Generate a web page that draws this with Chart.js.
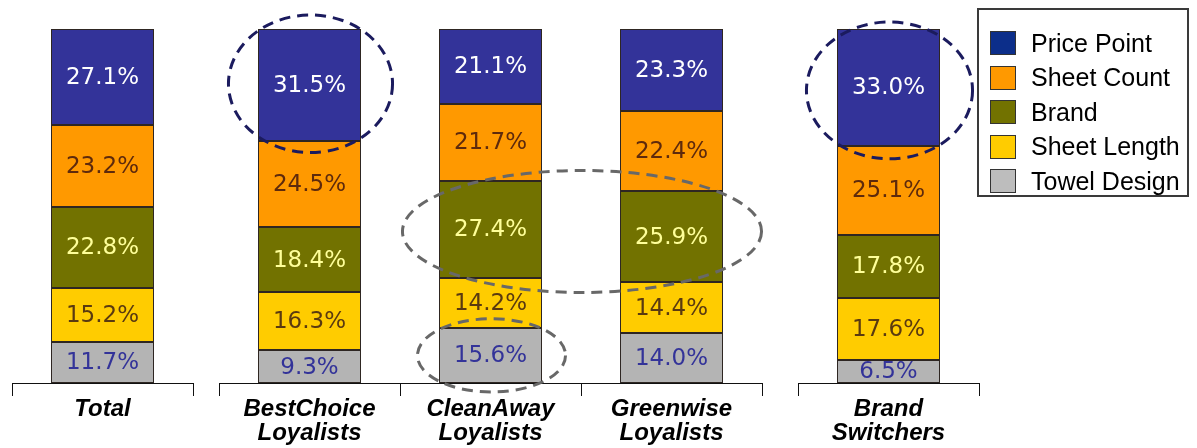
<!DOCTYPE html>
<html>
<head>
<meta charset="utf-8">
<title>Purchase drivers by shopper segment</title>
<script src="https://cdn.jsdelivr.net/npm/chart.js@4/dist/chart.umd.min.js"></script>
<style>
  html, body { margin: 0; padding: 0; background: #ffffff; }
  #stage { position: relative; width: 1197px; height: 448px; overflow: hidden; background: #ffffff; }
  .pane { position: absolute; top: 0; height: 448px; }
  .pane canvas { display: block; }
  #legend {
    position: absolute; left: 977px; top: 8px; width: 212px; height: 189px;
    border: 2px solid #3a3a3a; background: #ffffff; box-sizing: border-box;
    font-family: 'Liberation Sans', Arial, sans-serif; font-size: 25px; color: #000;
  }
  .row { position: absolute; left: 0; height: 34px; display: flex; align-items: center; }
  .sw { width: 26px; height: 24px; margin-left: 11px; box-sizing: border-box; border: 1px solid #333; }
  .tx { margin-left: 15px; white-space: nowrap; line-height: 1; }
</style>
</head>
<body>
<div id="stage">
  <div class="pane" style="left:0;width:205px"><canvas id="chartTotal" width="205" height="448"></canvas></div>
  <div class="pane" style="left:205px;width:570px"><canvas id="chartLoyal" width="570" height="448"></canvas></div>
  <div class="pane" style="left:775px;width:215px"><canvas id="chartSwitch" width="215" height="448"></canvas></div>
  <div id="legend"></div>
</div>
<script>
// Share of importance (%) of each purchase driver, by shopper segment
const categories  = ['Total', 'BestChoice Loyalists', 'CleanAway Loyalists', 'Greenwise Loyalists', 'Brand Switchers'];
const bracketOf   = [0, 1, 1, 1, 2];   // which axis bracket each segment sits under
const pricePoint  = [27.1, 31.5, 21.1, 23.3, 33.0];
const sheetCount  = [23.2, 24.5, 21.7, 22.4, 25.1];
const brand       = [22.8, 18.4, 27.4, 25.9, 17.8];
const sheetLength = [15.2, 16.3, 14.2, 14.4, 17.6];
const towelDesign = [11.7,  9.3, 15.6, 14.0,  6.5];

// Legend order (top to bottom); bars stack in the reverse order
const series = [
  { name: 'Price Point',  values: pricePoint,  fill: '#333399', swatch: '#0c2e8a', text: '#ffffff' },
  { name: 'Sheet Count',  values: sheetCount,  fill: '#ff9900', swatch: '#ff9900', text: '#5e2a0c' },
  { name: 'Brand',        values: brand,       fill: '#727200', swatch: '#727200', text: '#ffff99' },
  { name: 'Sheet Length', values: sheetLength, fill: '#ffcc00', swatch: '#ffcc00', text: '#5a3a10' },
  { name: 'Towel Design', values: towelDesign, fill: '#b4b4b4', swatch: '#bdbdbd', text: '#333399' }
];

// Dashed rings calling out notable segments
const rings = [
  { cats: ['BestChoice Loyalists'], series: 'Price Point', color: '#1b1b5e', padX: 31, padY: 13, dy: -1 },
  { cats: ['CleanAway Loyalists', 'Greenwise Loyalists'], series: 'Brand', color: '#686868', padX: 38, padY: 10, dy: 0 },
  { cats: ['CleanAway Loyalists'], series: 'Towel Design', color: '#686868', padX: 23, padY: 9, dy: 0 },
  { cats: ['Brand Switchers'], series: 'Price Point', color: '#1b1b5e', padX: 32, padY: 10, dy: 3 }
];

const labelFont = '23px "DejaVu Sans", Verdana, sans-serif';

function overlayPlugin(catIdx) {
  return {
    id: 'overlay',
    afterDatasetsDraw(chart) {
      const ctx = chart.ctx;
      // thin dark outline round every segment
      chart.data.datasets.forEach((ds, di) => {
        chart.getDatasetMeta(di).data.forEach(bar => {
          const l = Math.round(bar.x - bar.width / 2) + 0.5;
          const r = Math.round(bar.x + bar.width / 2) - 0.5;
          const t = Math.round(Math.min(bar.y, bar.base)) + 0.5;
          const b = Math.round(Math.max(bar.y, bar.base)) - 0.5;
          ctx.save();
          ctx.strokeStyle = '#2e2622';
          ctx.lineWidth = 1;
          ctx.strokeRect(l, t, r - l, b - t);
          ctx.restore();
        });
      });
      // value labels centred in each segment
      chart.data.datasets.forEach((ds, di) => {
        const meta = chart.getDatasetMeta(di);
        meta.data.forEach((bar, j) => {
          ctx.save();
          ctx.font = labelFont;
          ctx.fillStyle = ds.labelColor;
          ctx.textAlign = 'center';
          ctx.textBaseline = 'middle';
          ctx.fillText(ds.data[j].toFixed(1) + '%', bar.x, (bar.y + bar.base) / 2 + 1);
          ctx.restore();
        });
      });
      // callout rings
      rings.forEach(r => {
        const local = r.cats.map(c => catIdx.indexOf(categories.indexOf(c)));
        if (local.some(k => k < 0)) return;
        const di = chart.data.datasets.findIndex(d => d.label === r.series);
        const bars = local.map(k => chart.getDatasetMeta(di).data[k]);
        const left = Math.min(...bars.map(b => b.x - b.width / 2));
        const right = Math.max(...bars.map(b => b.x + b.width / 2));
        const top = Math.min(...bars.map(b => Math.min(b.y, b.base)));
        const bottom = Math.max(...bars.map(b => Math.max(b.y, b.base)));
        ctx.save();
        ctx.strokeStyle = r.color;
        ctx.lineWidth = 3;
        ctx.setLineDash([11, 7]);
        ctx.beginPath();
        ctx.ellipse((left + right) / 2 + 1, (top + bottom) / 2 + r.dy,
                    (right - left) / 2 + r.padX, (bottom - top) / 2 + r.padY, 0, 0, Math.PI * 2);
        ctx.stroke();
        ctx.restore();
      });
    }
  };
}

function buildChart(canvasId, bracket, padLeft, padRight) {
  const catIdx = categories.map((c, i) => i).filter(i => bracketOf[i] === bracket);
  const datasets = series.slice().reverse().map(s => ({
    label: s.name,
    data: catIdx.map(i => s.values[i]),
    backgroundColor: s.fill,
    borderWidth: 0,
    labelColor: s.text,
    categoryPercentage: 1,
    barPercentage: 0.564
  }));
  return new Chart(document.getElementById(canvasId), {
    type: 'bar',
    data: { labels: catIdx.map(i => categories[i].split(' ')), datasets },
    options: {
      responsive: false,
      animation: false,
      events: [],
      layout: { padding: { top: 29, left: padLeft, right: padRight, bottom: 0 } },
      plugins: { legend: { display: false }, tooltip: { enabled: false } },
      scales: {
        x: {
          stacked: true,
          offset: true,
          grid: { offset: true, drawOnChartArea: false, drawTicks: true, tickLength: 13, color: '#111', lineWidth: 1 },
          border: { display: true, color: '#111', width: 1 },
          ticks: {
            color: '#000',
            padding: 2,
            maxRotation: 0,
            autoSkip: false,
            font: { family: "'Liberation Sans', Arial, sans-serif", size: 24, weight: 'bold', style: 'italic', lineHeight: 0.98 }
          },
          afterFit(scale) { scale.height = 65; }
        },
        y: { stacked: true, display: false, min: 0, max: 100 }
      }
    },
    plugins: [overlayPlugin(catIdx)]
  });
}

buildChart('chartTotal', 0, 12, 12);
buildChart('chartLoyal', 1, 14, 13);
buildChart('chartSwitch', 2, 23, 11);

// Legend box
const legend = document.getElementById('legend');
series.forEach((s, i) => {
  const row = document.createElement('div');
  row.className = 'row';
  row.style.top = (16 + i * 34.5) + 'px';
  const sw = document.createElement('div');
  sw.className = 'sw';
  sw.style.background = s.swatch;
  const tx = document.createElement('div');
  tx.className = 'tx';
  tx.textContent = s.name;
  row.appendChild(sw);
  row.appendChild(tx);
  legend.appendChild(row);
});
</script>
</body>
</html>
